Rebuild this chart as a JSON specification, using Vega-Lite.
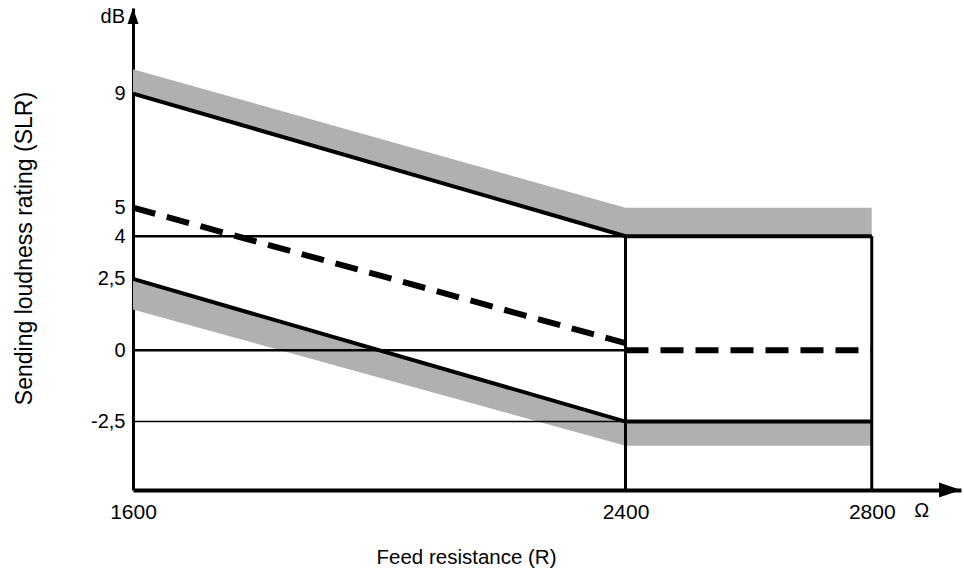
{
  "$schema": "https://vega.github.io/schema/vega-lite/v6.json",
  "width": 828,
  "height": 482,
  "autosize": {"type": "none"},
  "padding": {"left": 133, "top": 8, "right": 3, "bottom": 83},
  "background": "white",
  "config": {"view": {"stroke": null}, "font": "Liberation Sans"},
  "datasets": {
    "bands": [
      {"s": "upper", "x": 1600, "y": 9, "y2": 9.85},
      {"s": "upper", "x": 2400, "y": 4, "y2": 5.0},
      {"s": "upper", "x": 2800, "y": 4, "y2": 5.0},
      {"s": "lower", "x": 1600, "y": 1.43, "y2": 2.5},
      {"s": "lower", "x": 2400, "y": -3.35, "y2": -2.5},
      {"s": "lower", "x": 2800, "y": -3.35, "y2": -2.5}
    ],
    "thick": [
      {"s": "upper", "x": 1600, "y": 9},
      {"s": "upper", "x": 2400, "y": 4},
      {"s": "upper", "x": 2800, "y": 4},
      {"s": "lower", "x": 1600, "y": 2.5},
      {"s": "lower", "x": 2400, "y": -2.5},
      {"s": "lower", "x": 2800, "y": -2.5}
    ],
    "thin": [
      {"s": "four", "x": 1600, "y": 4},
      {"s": "four", "x": 2400, "y": 4},
      {"s": "zero", "x": 1600, "y": 0},
      {"s": "zero", "x": 2400, "y": 0}
    ],
    "hair": [
      {"s": "m25", "x": 1600, "y": -2.5},
      {"s": "m25", "x": 2400, "y": -2.5}
    ],
    "dashed": [
      {"s": "slope", "x": 1600, "y": 5},
      {"s": "slope", "x": 2400, "y": 0.25},
      {"s": "flat", "x": 2400, "y": 0},
      {"s": "flat", "x": 2800, "y": 0}
    ],
    "verticals": [
      {"x": 2400, "y": -4.9, "y2": 4},
      {"x": 2800, "y": -4.9, "y2": 4}
    ]
  },
  "encoding": {
    "x": {
      "field": "x",
      "type": "quantitative",
      "scale": {"domain": [1600, 2945], "nice": false, "zero": false},
      "axis": {
        "values": [1600, 2400, 2800],
        "format": "d",
        "grid": false,
        "ticks": false,
        "domainColor": "black",
        "domainWidth": 4,
        "labelColor": "black",
        "labelFontSize": 21,
        "labelPadding": 11,
        "labelFlush": false,
        "title": "Feed resistance (R)",
        "titleFontSize": 20.5,
        "titleFontWeight": "normal",
        "titleColor": "black",
        "titleX": 333,
        "titleY": 67,
        "titleAlign": "center",
        "titleBaseline": "middle"
      }
    },
    "y": {
      "field": "y",
      "type": "quantitative",
      "scale": {"domain": [-4.9, 12], "nice": false, "zero": false},
      "axis": {
        "values": [9, 5, 4, 2.5, 0, -2.5],
        "labelExpr": "replace(toString(datum.value), '.', ',')",
        "grid": false,
        "ticks": false,
        "domainColor": "black",
        "domainWidth": 3,
        "labelColor": "black",
        "labelFontSize": 20,
        "labelPadding": 8,
        "encode": {
          "labels": {
            "update": {
              "dy": {"signal": "datum.value == 9 ? -7 : datum.value == 5 ? -5 : datum.value == 4 ? -2 : datum.value == 2.5 ? -4 : datum.value == 0 ? 1 : 2"}
            }
          }
        },
        "title": "Sending loudness rating (SLR)",
        "titleFontSize": 23,
        "titleFontWeight": "normal",
        "titleColor": "black",
        "titleAngle": -90,
        "titleX": -109,
        "titleY": 240,
        "titleAlign": "center",
        "titleBaseline": "middle"
      }
    }
  },
  "layer": [
    {
      "data": {"name": "bands"},
      "mark": {"type": "area", "color": "#b0b0b0", "opacity": 1},
      "encoding": {"y2": {"field": "y2"}, "detail": {"field": "s"}}
    },
    {
      "data": {"name": "thin"},
      "mark": {"type": "line", "color": "black", "strokeWidth": 2.5},
      "encoding": {"detail": {"field": "s"}}
    },
    {
      "data": {"name": "hair"},
      "mark": {"type": "line", "color": "black", "strokeWidth": 1.5},
      "encoding": {"detail": {"field": "s"}}
    },
    {
      "data": {"name": "thick"},
      "mark": {"type": "line", "color": "black", "strokeWidth": 4},
      "encoding": {"detail": {"field": "s"}}
    },
    {
      "data": {"name": "dashed"},
      "mark": {"type": "line", "color": "black", "strokeWidth": 6, "strokeDash": [23, 12]},
      "encoding": {"detail": {"field": "s"}}
    },
    {
      "data": {"name": "verticals"},
      "mark": {"type": "rule", "color": "black", "strokeWidth": 3},
      "encoding": {"y2": {"field": "y2"}}
    },
    {
      "data": {"values": [{"x": 2945, "y": -4.9}]},
      "mark": {"type": "point", "filled": true, "opacity": 1, "color": "black", "size": 400, "shape": "M 0 0 L -2.2 -0.75 L -2.2 0.75 Z"},
      "encoding": {}
    },
    {
      "data": {"values": [{"x": 1600, "y": 12}]},
      "mark": {"type": "point", "filled": true, "opacity": 1, "color": "black", "size": 400, "shape": "M 0 0 L -0.55 1.6 L 0.55 1.6 Z"},
      "encoding": {}
    },
    {
      "data": {"values": [{"x": 1600, "y": 12, "t": "dB"}]},
      "mark": {"type": "text", "align": "right", "baseline": "middle", "dx": -8, "dy": 9, "fontSize": 20, "color": "black"},
      "encoding": {"text": {"field": "t"}}
    },
    {
      "data": {"values": [{"x": 2881, "y": -4.9, "t": "Ω"}]},
      "mark": {"type": "text", "align": "center", "baseline": "middle", "dy": 21, "fontSize": 20, "color": "black"},
      "encoding": {"text": {"field": "t"}}
    }
  ]
}
